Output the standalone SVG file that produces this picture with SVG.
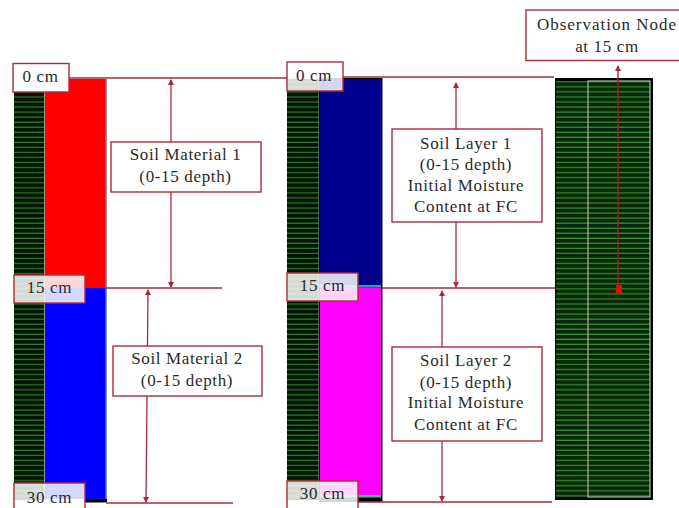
<svg xmlns="http://www.w3.org/2000/svg" width="679" height="508" viewBox="0 0 679 508">
<style>
.box{fill:#fff;stroke:#b02a3a;stroke-width:1.4}
.tag{fill:#fff;fill-opacity:.84;stroke:#b02a3a;stroke-width:1.4}
.cn{fill:none;stroke:#a92b3b;stroke-width:1.3}
text{font-family:"Liberation Serif","DejaVu Serif",serif;font-size:17px;letter-spacing:.65px;fill:#2a2a2a;text-anchor:middle}
</style>
<defs>
<pattern id="mesh" width="5" height="5.05" patternUnits="userSpaceOnUse" y="79">
<rect width="5" height="5.05" fill="#001400"/><rect y="2.2" width="5" height="1.1" fill="#2c8a2c"/>
</pattern>
<pattern id="mesh2" width="5" height="5.05" patternUnits="userSpaceOnUse" y="79">
<rect width="5" height="5.05" fill="#062a06"/><rect y="2.2" width="5" height="1.1" fill="#3f933f"/>
</pattern>
<marker id="ah" markerWidth="6" markerHeight="6" refX="5" refY="3" orient="auto-start-reverse" markerUnits="userSpaceOnUse"><path d="M0 0L6 3L0 6Z" fill="#a92b3b"/></marker>
</defs>
<rect width="679" height="508" fill="#fff"/>

<g id="column1">
<rect x="14" y="79" width="30" height="421" fill="url(#mesh)"/>
<rect x="44" y="79" width="1.5" height="421" fill="#9a9a9a"/>
<rect x="45" y="79" width="61" height="210" fill="#f00"/>
<rect x="45" y="288" width="61" height="211" fill="#00f"/>
<rect x="105.500" y="79" width="1.500" height="420" fill="#8e8ea8"/>
<rect x="84" y="499" width="23" height="3.500" fill="#000"/>
</g>
<g id="column2">
<rect x="287" y="79" width="32" height="421" fill="url(#mesh)"/>
<rect x="318.500" y="79" width="1.500" height="415" fill="#8a9a8a"/>
<rect x="319" y="78" width="63.500" height="424" fill="#000"/>
<rect x="320" y="79" width="61" height="207" fill="#00008c"/>
<rect x="320" y="285" width="61" height="2.500" fill="#1fa0b0"/>
<rect x="320" y="287.500" width="61" height="207.500" fill="#f0f"/>
<rect x="320" y="495" width="61" height="2.500" fill="#40c090"/>
</g>
<g id="column3">
<rect x="555" y="78" width="98" height="422" fill="#000"/>
<rect x="556" y="81" width="94" height="416" fill="url(#mesh2)"/>
<rect x="588" y="81" width="62" height="416" fill="none" stroke="#a8b8a8" stroke-width="1.2"/>
<rect x="616" y="285" width="6" height="8" fill="#f00"/>
</g>

<g id="connectors">
<path class="cn" d="M69 78H288"/>
<path class="cn" d="M343 77H554"/>
<path class="cn" d="M106 288H222"/>
<path class="cn" d="M382 288H555"/>
<path class="cn" d="M106 503H233"/>
<path class="cn" d="M358 502H552"/>
<path class="cn" d="M171 80V287" marker-start="url(#ah)" marker-end="url(#ah)"/>
<path class="cn" d="M148 290L146 502" marker-start="url(#ah)" marker-end="url(#ah)"/>
<path class="cn" d="M456 83V287" marker-start="url(#ah)" marker-end="url(#ah)"/>
<path class="cn" d="M442 291V501" marker-start="url(#ah)" marker-end="url(#ah)"/>
<path d="M618 66V286" fill="none" stroke="#c01020" stroke-width="1.300" marker-start="url(#ah)"/>
</g>

<g id="tag-0cm-a"><rect class="box" x="13" y="63.500" width="56" height="28.500"/><text x="40.500" y="82">0 cm</text></g>
<g id="tag-15cm-a"><rect class="tag" x="14" y="275" width="71" height="28"/><text x="49.500" y="293">15 cm</text></g>
<g id="tag-30cm-a"><rect class="tag" x="14" y="483" width="71" height="30"/><text x="49.500" y="503">30 cm</text></g>
<g id="tag-0cm-b"><rect class="tag" x="287" y="62" width="56" height="29"/><text x="314" y="81">0 cm</text></g>
<g id="tag-15cm-b"><rect class="tag" x="287" y="273" width="71" height="28"/><text x="322.500" y="291">15 cm</text></g>
<g id="tag-30cm-b"><rect class="tag" x="287" y="481" width="71" height="30"/><text x="322.500" y="499">30 cm</text></g>

<g id="soil-material-1"><rect class="box" x="111" y="142" width="150" height="50"/><text x="185.500" y="160">Soil Material 1</text><text x="185.500" y="182">(0-15 depth)</text></g>
<g id="soil-material-2"><rect class="box" x="113" y="346" width="149" height="50"/><text x="187" y="364">Soil Material 2</text><text x="187" y="386">(0-15 depth)</text></g>
<g id="soil-layer-1"><rect class="box" x="392" y="129" width="150" height="93"/><text x="466" y="149">Soil Layer 1</text><text x="466" y="170">(0-15 depth)</text><text x="466" y="191">Initial Moisture</text><text x="466" y="212">Content at FC</text></g>
<g id="soil-layer-2"><rect class="box" x="392" y="347" width="150" height="94"/><text x="466" y="366">Soil Layer 2</text><text x="466" y="388">(0-15 depth)</text><text x="466" y="408">Initial Moisture</text><text x="466" y="430">Content at FC</text></g>
<g id="observation-node"><rect class="box" x="526" y="10" width="156" height="50.500"/><text x="607" y="30" style="letter-spacing:1px">Observation Node</text><text x="607" y="52">at 15 cm</text></g>
</svg>
